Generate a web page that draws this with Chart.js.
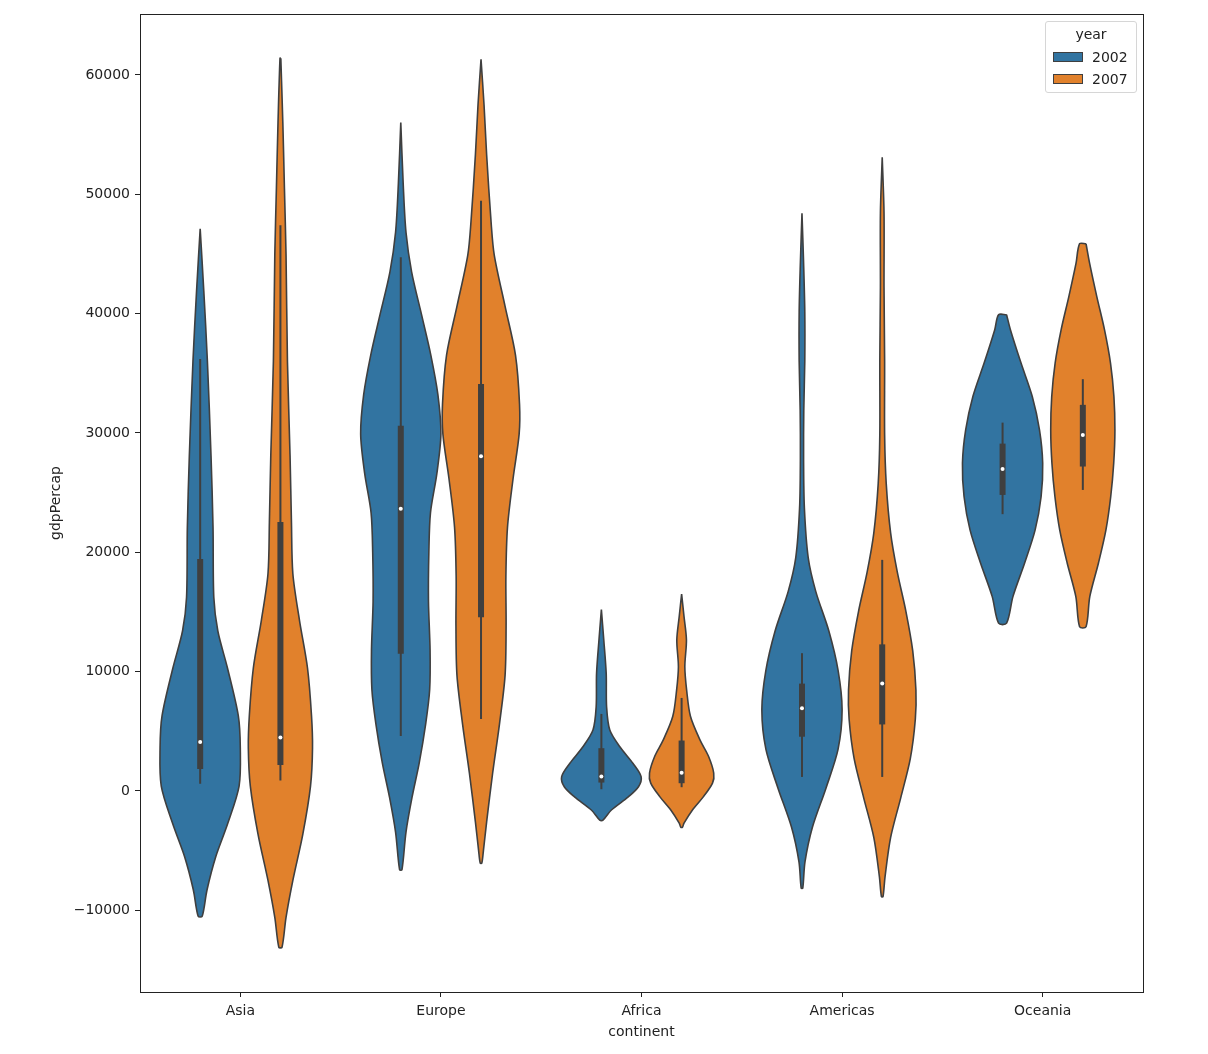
<!DOCTYPE html>
<html><head><meta charset="utf-8">
<script src="https://cdn.jsdelivr.net/npm/chart.js@4.4.0/dist/chart.umd.min.js"></script>
<style>
html,body{margin:0;padding:0;background:#fff;}
#wrap{position:relative;width:1208px;height:1054px;}
#legend{position:absolute;left:1045px;top:21px;width:92px;height:72px;border:1px solid #d6d6d6;border-radius:3px;background:rgba(255,255,255,0.85);font-family:'DejaVu Sans',sans-serif;font-size:14px;color:#222;box-sizing:border-box;}
#legend .t{position:absolute;left:0;width:100%;top:4px;text-align:center;}
#legend .r{position:absolute;left:7px;height:16px;line-height:16px;}
#legend .p{display:inline-block;width:30px;height:10px;border:1px solid #3f3f3f;box-sizing:border-box;vertical-align:middle;margin-right:9px;position:relative;top:-1px;}
</style></head>
<body><div id="wrap"><canvas id="c" width="1208" height="1054"></canvas>
<div id="legend"><div class="t">year</div>
<div class="r" style="top:27px"><span class="p" style="background:#3274a1"></span>2002</div>
<div class="r" style="top:49px"><span class="p" style="background:#e1812c"></span>2007</div>
</div></div>
<script>
const categories = ['Asia','Europe','Africa','Americas','Oceania'];
const years = ['2002','2007'];
const yearColors = ['#3274a1','#e1812c'];
const yTicks = [-10000,0,10000,20000,30000,40000,50000,60000];

// violin profiles: gdpPercap values and relative half-widths (1 = widest)
const asia2002Y = [47100,41900,36000,28100,22100,16200,13400,10300,6300,3600,400,-2800,-5500,-8300,-10500];
const asia2002W = [0,0.09,0.18,0.27,0.32,0.34,0.44,0.68,0.95,1.0,0.97,0.68,0.39,0.17,0.05];
const asia2007Y = [61400,56000,50500,44900,36000,28100,22500,18200,14300,10300,6300,3600,400,-3600,-7500,-10600,-13100];
const asia2007W = [0.01,0.06,0.1,0.14,0.175,0.24,0.275,0.31,0.475,0.675,0.775,0.8,0.75,0.56,0.31,0.14,0.04];
const europe2002Y = [56000,50900,46800,43500,39800,36500,33200,29900,26600,23300,20000,15900,11800,8500,5600,2350,-550,-3450,-6600];
const europe2002W = [0,0.06,0.13,0.27,0.525,0.75,0.925,1.0,0.9,0.74,0.7,0.69,0.73,0.72,0.62,0.46,0.28,0.13,0.03];
const europe2007Y = [61300,57500,53300,47700,44900,40600,36500,32400,29900,26200,22100,18000,13850,9700,5600,1500,-2600,-5000,-6050];
const europe2007W = [0,0.075,0.14,0.25,0.33,0.6,0.86,0.96,0.95,0.8,0.66,0.62,0.625,0.6,0.46,0.29,0.14,0.06,0.02];
const africa2002Y = [15200,12650,9850,7050,5100,3700,2300,1200,350,-500,-1600,-2450];
const africa2002W = [0,0.06,0.12,0.13,0.21,0.46,0.79,0.99,0.925,0.67,0.25,0.04];
const africa2007Y = [16500,14600,12650,10400,8450,6250,4250,2900,1500,650,-500,-1600,-2700,-3050];
const africa2007W = [0,0.06,0.12,0.08,0.125,0.22,0.46,0.67,0.8,0.77,0.54,0.27,0.06,0.02];
const americas2002Y = [48400,44250,40150,36000,31900,27800,23700,19550,16700,13400,10100,6800,3500,250,-3050,-5950,-8150];
const americas2002W = [0,0.04,0.07,0.07,0.045,0.04,0.06,0.155,0.345,0.67,0.9,1.0,0.9,0.6,0.26,0.075,0.02];
const americas2007Y = [53100,48400,42200,36000,29850,25750,21600,18350,15050,11750,8450,6000,2700,-600,-3900,-7200,-8850];
const americas2007W = [0,0.045,0.045,0.06,0.06,0.1,0.21,0.375,0.59,0.76,0.84,0.825,0.7,0.46,0.21,0.07,0.02];
const oceania2002Y = [39900,38650,35850,33050,30250,27450,24650,21850,19100,16300,14050];
const oceania2002W = [0.1,0.195,0.46,0.74,0.92,1.0,0.96,0.81,0.55,0.26,0.1];
const oceania2007Y = [45850,44200,41400,38650,35850,33050,30250,27450,24650,21850,19100,16300,13750];
const oceania2007W = [0.08,0.17,0.35,0.54,0.69,0.775,0.8,0.77,0.695,0.575,0.39,0.175,0.08];

// inner box stats per continent (same order as categories)
const whiskerLow2002 = [590,4600,140,1170,23190];
const q1_2002 = [1840,11500,700,4540,24800];
const median2002 = [4100,23650,1200,6930,26980];
const q3_2002 = [19440,30600,3580,8990,29100];
const whiskerHigh2002 = [36200,44720,6450,11540,30860];
const whiskerLow2007 = [870,6030,310,1170,25220];
const q1_2007 = [2180,14550,645,5570,27180];
const median2007 = [4470,28050,1530,8990,29830];
const q3_2007 = [22540,34100,4220,12280,32350];
const whiskerHigh2007 = [47400,49450,7790,19360,34500];

const profiles = [
  [[asia2002Y,asia2002W],[asia2007Y,asia2007W]],
  [[europe2002Y,europe2002W],[europe2007Y,europe2007W]],
  [[africa2002Y,africa2002W],[africa2007Y,africa2007W]],
  [[americas2002Y,americas2002W],[americas2007Y,americas2007W]],
  [[oceania2002Y,oceania2002W],[oceania2007Y,oceania2007W]]
];
const boxes = [
  [whiskerLow2002,q1_2002,median2002,q3_2002,whiskerHigh2002],
  [whiskerLow2007,q1_2007,median2007,q3_2007,whiskerHigh2007]
];

const HALF = 0.2, OFFS = [-0.2, 0.2], EDGE = '#3f3f3f';
const FONT = {family:"'DejaVu Sans', sans-serif", size:14};

function violinPoints(c, ys, ws){
  const right = ys.map((y,i)=>({x:c+ws[i]*HALF, y}));
  const left = ys.map((y,i)=>({x:c-ws[i]*HALF, y})).reverse();
  return right.concat(left, [right[0]]);
}

const datasets = [];
categories.forEach((cat, ci) => {
  years.forEach((yr, yi) => {
    const c = ci + OFFS[yi];
    const [ys, ws] = profiles[ci][yi];
    datasets.push({label: cat+' '+yr, data: violinPoints(c, ys, ws), showLine:true, fill:'shape',
      backgroundColor: yearColors[yi], borderColor: EDGE, borderWidth:1.6, pointRadius:0, tension:0.3, order:3});
    const b = boxes[yi];
    datasets.push({data:[{x:c,y:b[0][ci]},{x:c,y:b[4][ci]}], showLine:true, borderColor:EDGE, borderWidth:2, pointRadius:0, order:2});
    datasets.push({data:[{x:c,y:b[1][ci]},{x:c,y:b[3][ci]}], showLine:true, borderColor:EDGE, borderWidth:6, borderCapStyle:'butt', pointRadius:0, order:1});
    datasets.push({data:[{x:c,y:b[2][ci]}], showLine:false, pointRadius:2, backgroundColor:'#ffffff', borderWidth:0, order:0});
  });
});

const frame = {id:'frame', afterDraw(chart){
  const {ctx, chartArea:a} = chart;
  ctx.save(); ctx.strokeStyle='#222'; ctx.lineWidth=1;
  ctx.strokeRect(Math.round(a.left)+0.5, Math.round(a.top)+0.5, Math.round(a.right-a.left), Math.round(a.bottom-a.top));
  ctx.restore();
}};

new Chart(document.getElementById('c'), {
  type:'scatter',
  data:{datasets},
  plugins:[frame],
  options:{
    responsive:false, animation:false, devicePixelRatio:1,
    layout:{padding:{top:14,right:65,left:0,bottom:0}},
    plugins:{legend:{display:false}, tooltip:{enabled:false}},
    scales:{
      x:{type:'linear', min:-0.5, max:4.5,
        afterBuildTicks:s=>{s.ticks = categories.map((_,i)=>({value:i}));},
        afterFit:s=>{s.height = 62;},
        ticks:{callback:v=>categories[v], font:FONT, color:'#222', padding:6, autoSkip:false, maxRotation:0},
        grid:{display:true, drawOnChartArea:false, drawTicks:true, tickLength:5, color:'#222'},
        border:{display:false},
        title:{display:true, text:'continent', font:FONT, color:'#222', padding:{top:0,bottom:13}}},
      y:{type:'linear', min:-16850, max:65100,
        afterBuildTicks:s=>{s.ticks = yTicks.map(v=>({value:v}));},
        afterFit:s=>{s.width = 140;},
        ticks:{callback:v=> v<0 ? '\u2212'+Math.abs(v) : String(v), font:FONT, color:'#222', padding:5},
        grid:{display:true, drawOnChartArea:false, drawTicks:true, tickLength:5, color:'#222'},
        border:{display:false},
        title:{display:true, text:'gdpPercap', font:FONT, color:'#222', padding:{top:48,bottom:0}}}
    }
  }
});
</script></body></html>
